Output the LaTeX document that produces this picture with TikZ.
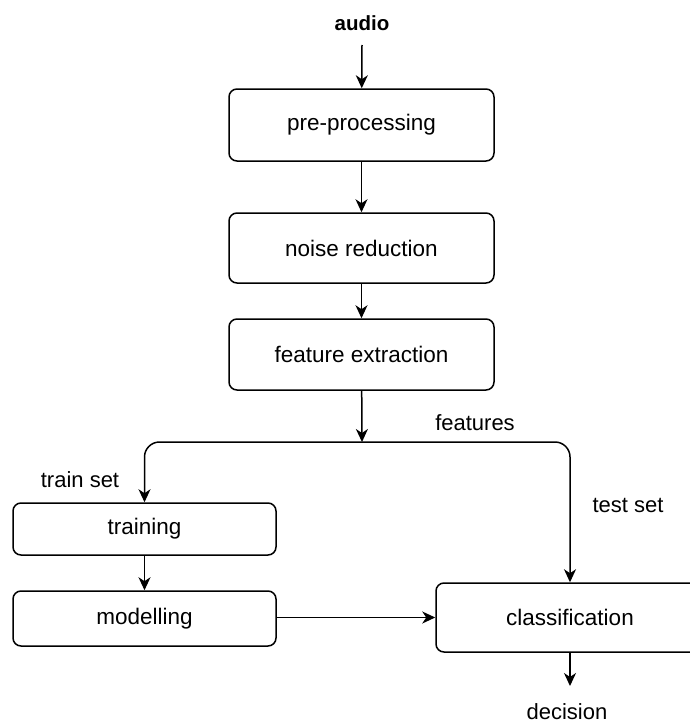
\documentclass[tikz,border=0pt]{standalone}
\usepackage{fontspec}
\setmainfont{Liberation Sans}
\usetikzlibrary{arrows.meta}
\begin{document}
\begin{tikzpicture}[x=1pt,y=-1pt,
  box/.style={draw, line width=1.5pt, rounded corners=8pt, minimum width=265pt, inner sep=0pt, font=\fontsize{22.5}{26}\selectfont},
  lbl/.style={inner sep=0pt, font=\fontsize{22}{26}\selectfont},
  arr/.style={line width=1.5pt, -{Stealth[length=13pt,width=12pt,inset=4pt]}},
  ln/.style={line width=1.5pt}]
\clip (0,0) rectangle (690,725);
\useasboundingbox (0,0) rectangle (690,725);
\node[lbl, font=\fontsize{20.5}{24}\selectfont\bfseries] (audio) at (362,23) {audio};
\coordinate (a0) at (362,45);
\node[box, minimum height=72pt] (pre) at (361.5,125) {pre-processing};
\node[box, minimum height=70pt] (noise) at (361.5,248) {noise reduction};
\node[box, minimum height=71pt] (feat) at (361.5,354.5) {feature extraction};
\coordinate (J) at (362,442);
\node[box, minimum width=263pt, minimum height=52pt] (train) at (144.5,529) {training};
\node[box, minimum width=263pt, minimum height=55pt] (model) at (144.5,618.5) {modelling};
\node[box, minimum width=268pt, minimum height=69pt] (class) at (570,617.5) {classification};
\coordinate (d0) at (570,686);
\node[lbl] (features) at (475,423) {features};
\node[lbl] (trainset) at (80,480) {train set};
\node[lbl] (testset) at (628,505) {test set};
\node[lbl] (decision) at (567,712) {decision};
\draw[arr] (a0) -- (pre);
\draw[arr] (pre) -- (noise);
\draw[arr] (noise) -- (feat);
\draw[arr] (feat) -- (J);
\draw[arr, rounded corners=15pt] (J) -| (train.north);
\draw[arr, rounded corners=15pt] (J) -| (class.north);
\draw[arr] (train) -- (model);
\draw[arr] (model.east |- class.west) -- (class.west);
\draw[arr] (class) -- (d0);
\end{tikzpicture}
\end{document}
